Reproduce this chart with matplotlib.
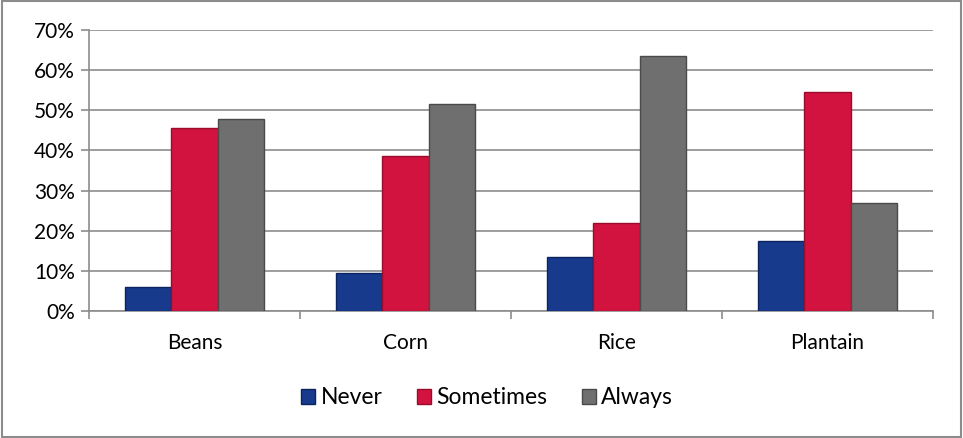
import numpy as np
import matplotlib.pyplot as plt
from matplotlib.ticker import PercentFormatter

categories = ["Beans", "Corn", "Rice", "Plantain"]
never = [6, 9.5, 13.5, 17.5]
sometimes = [45.5, 38.5, 22, 54.5]
always = [47.8, 51.5, 63.5, 26.8]

series = [("Never", never, "#173a8c", "#0c2460"),
          ("Sometimes", sometimes, "#d2133f", "#9a0c2c"),
          ("Always", always, "#6f6f6f", "#4a4a4a")]

plt.rcParams['font.family'] = ['Lato', 'DejaVu Sans']

fig = plt.figure(figsize=(9.63, 4.38), dpi=100)
ax = fig.add_axes([89/963, 1 - 311/438, 844/963, 281/438])

x = np.arange(len(categories))
w = 0.22
for i, (name, vals, col, edge) in enumerate(series):
    ax.bar(x + (i - 1) * w, vals, w, color=col, edgecolor=edge, linewidth=1.0,
           label=name, zorder=3)

ax.set_xlim(-0.5, len(categories) - 0.5)
ax.set_ylim(0, 70)
ax.set_yticks(np.arange(0, 71, 10))
ax.yaxis.set_major_formatter(PercentFormatter(decimals=0))
ax.grid(axis='y', color='#8c8c8c', linewidth=1.2, zorder=0)

ax.set_xticks(x)
ax.set_xticklabels(categories)
ax.set_xticks(np.arange(-0.5, len(categories), 1), minor=True)
ax.tick_params(axis='x', which='major', length=0, pad=16, labelsize=15)
ax.tick_params(axis='x', which='minor', length=6, color='#8c8c8c', width=1.2)
ax.tick_params(axis='y', length=6, color='#8c8c8c', width=1.2, labelsize=15, pad=4)

for s in ['top', 'right']:
    ax.spines[s].set_visible(False)
for s in ['left', 'bottom']:
    ax.spines[s].set_color('#8c8c8c')
    ax.spines[s].set_linewidth(1.2)

fig.legend(loc='center', bbox_to_anchor=(0.506, 1 - 398/438), ncol=3, frameon=False,
           fontsize=16.5, handlelength=0.6, handleheight=0.6, handletextpad=0.25,
           columnspacing=1.5)

fig.patches.append(plt.Rectangle((0.002, 0.003), 0.996, 0.994, transform=fig.transFigure,
                                 fill=False, edgecolor='#8c8c8c', linewidth=1.5))

fig.savefig("out.png", dpi=100)
